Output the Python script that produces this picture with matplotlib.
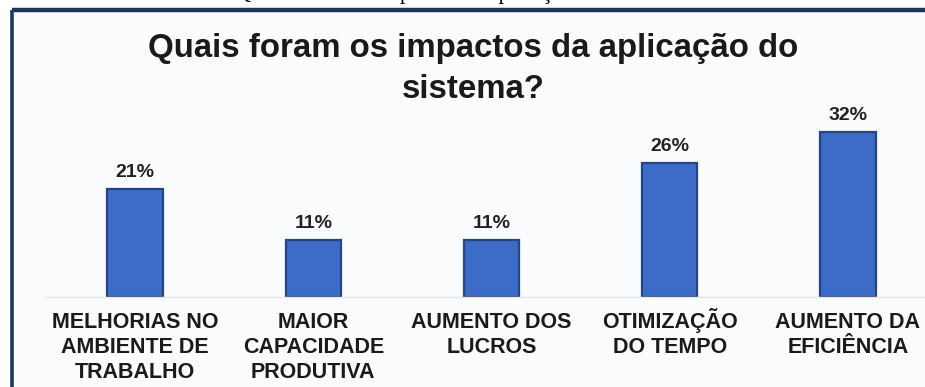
import matplotlib

matplotlib.use("Agg")
import matplotlib.pyplot as plt
from matplotlib.lines import Line2D

plt.rcParams["font.family"] = ["Liberation Sans", "DejaVu Sans"]

categories = [
    "MELHORIAS NO\nAMBIENTE DE\nTRABALHO",
    "MAIOR\nCAPACIDADE\nPRODUTIVA",
    "AUMENTO DOS\nLUCROS",
    "OTIMIZAÇÃO\nDO TEMPO",
    "AUMENTO DA\nEFICIÊNCIA",
]
percent = [21, 11, 11, 26, 32]

NAVY = "#1F365C"
BAR = "#3D6BC8"
BAR_EDGE = "#27457F"

W, H = 925, 387
fig = plt.figure(figsize=(W / 100, H / 100), dpi=100)
fig.patch.set_facecolor("white")

# chart frame: light panel behind everything
bg = fig.add_axes([12 / W, 0, 1 - 12 / W, 1 - 10 / H], zorder=-1)
bg.set_facecolor("#F9FBFD")
bg.set_xticks([])
bg.set_yticks([])
for s in bg.spines.values():
    s.set_visible(False)

# cropped caption line above the frame
fig.text(400 / W, 1 + 1 / H, "Gráfico 4 – Quais foram os impactos da aplicação do sistema",
         family="Liberation Serif", fontsize=16, ha="center", va="baseline",
         color="black")

# dark blue border on top and left
fig.lines.append(Line2D([12 / W, 1], [1 - 10 / H, 1 - 10 / H], transform=fig.transFigure,
                        color=NAVY, lw=3.2, solid_capstyle="butt"))
fig.lines.append(Line2D([12 / W, 12 / W], [0, 1 - 10 / H], transform=fig.transFigure,
                        color=NAVY, lw=2.6, solid_capstyle="butt"))

fig.text(473 / W, 1 - 69 / H, "Quais foram os impactos da aplicação do\nsistema?",
         fontsize=23.8, fontweight="bold", ha="center", va="center",
         color="#1A1A1A", linespacing=1.38)

ax = fig.add_axes([46 / W, 90 / H, 891 / W, 206 / H])
ax.set_facecolor("none")
x = list(range(len(categories)))
bars = ax.bar(x, percent, width=0.31, color=BAR, edgecolor=BAR_EDGE, linewidth=1.6)
ax.set_xlim(-0.5, 4.5)
ax.set_ylim(0, 40)

for rect, v in zip(bars, percent):
    ax.annotate(f"{v}%", (rect.get_x() + rect.get_width() / 2, v),
                xytext=(0, 6), textcoords="offset points", ha="center", va="bottom",
                fontsize=14, fontweight="bold", color="#222222")

# category labels: one line at a time so every first line shares a baseline
for xi, name in zip(x, categories):
    for k, line in enumerate(name.split("\n")):
        ax.annotate(line, (xi, 0), xytext=(0, -22.5 - 18.0 * k),
                    textcoords="offset points", ha="center", va="baseline",
                    fontsize=15.5, fontweight="bold", color="#1A1A1A",
                    annotation_clip=False)

ax.set_xticks([])
ax.set_yticks([])
for s in ["left", "right", "top"]:
    ax.spines[s].set_visible(False)
ax.spines["bottom"].set_color("#E6E6E6")
ax.spines["bottom"].set_linewidth(1.0)

fig.savefig("out.png", dpi=100)
